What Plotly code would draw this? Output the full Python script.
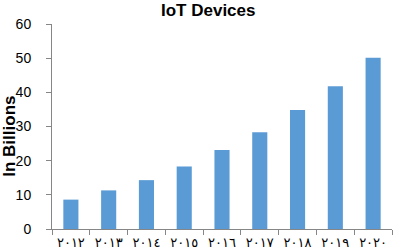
import plotly.graph_objects as go

years = ["٢٠١٢", "٢٠١٣", "٢٠١٤", "٢٠١٥", "٢٠١٦", "٢٠١٧", "٢٠١٨", "٢٠١٩", "٢٠٢٠"]
devices = [8.6, 11.3, 14.3, 18.3, 23.1, 28.3, 34.8, 41.8, 50.1]
y_ticks = [0, 10, 20, 30, 40, 50, 60]

fig = go.Figure(go.Bar(x=years, y=devices, marker=dict(color="#5B9BD5", line=dict(width=0))))

fig.update_layout(
    width=398, height=252,
    margin=dict(l=52, r=6, t=24, b=23, autoexpand=False),
    paper_bgcolor="white", plot_bgcolor="white",
    bargap=0.6,
    showlegend=False,
    font=dict(family="Liberation Sans, Arial", color="#000000"),
)
fig.update_xaxes(
    showline=True, linecolor="#868686", linewidth=1,
    ticks="outside", tickson="boundaries", ticklen=5, tickcolor="#868686",
    tickfont=dict(family="DejaVu Sans", size=13, color="#000000"),
    ticklabelstandoff=1, tickangle=0, automargin=False,
    showgrid=False,
)
fig.update_yaxes(
    range=[0, 60], tickvals=y_ticks,
    showline=True, linecolor="#868686", linewidth=1,
    ticks="outside", ticklen=5, tickcolor="#868686",
    tickfont=dict(size=14, color="#000000"),
    ticklabelstandoff=12, automargin=False,
    showgrid=False, zeroline=False,
)
fig.add_annotation(text="<b>IoT Devices</b>", xref="paper", yref="paper",
                   x=(208.5 - 52) / 340, y=1, yanchor="bottom", yshift=2,
                   showarrow=False, font=dict(size=17, color="#000000"))
fig.add_annotation(text="<b>In Billions</b>", xref="paper", yref="paper",
                   x=0, xanchor="center", xshift=-42, y=0.45, yanchor="middle",
                   textangle=-90,
                   showarrow=False, font=dict(size=17, color="#000000"))
fig.write_html("out.html")
